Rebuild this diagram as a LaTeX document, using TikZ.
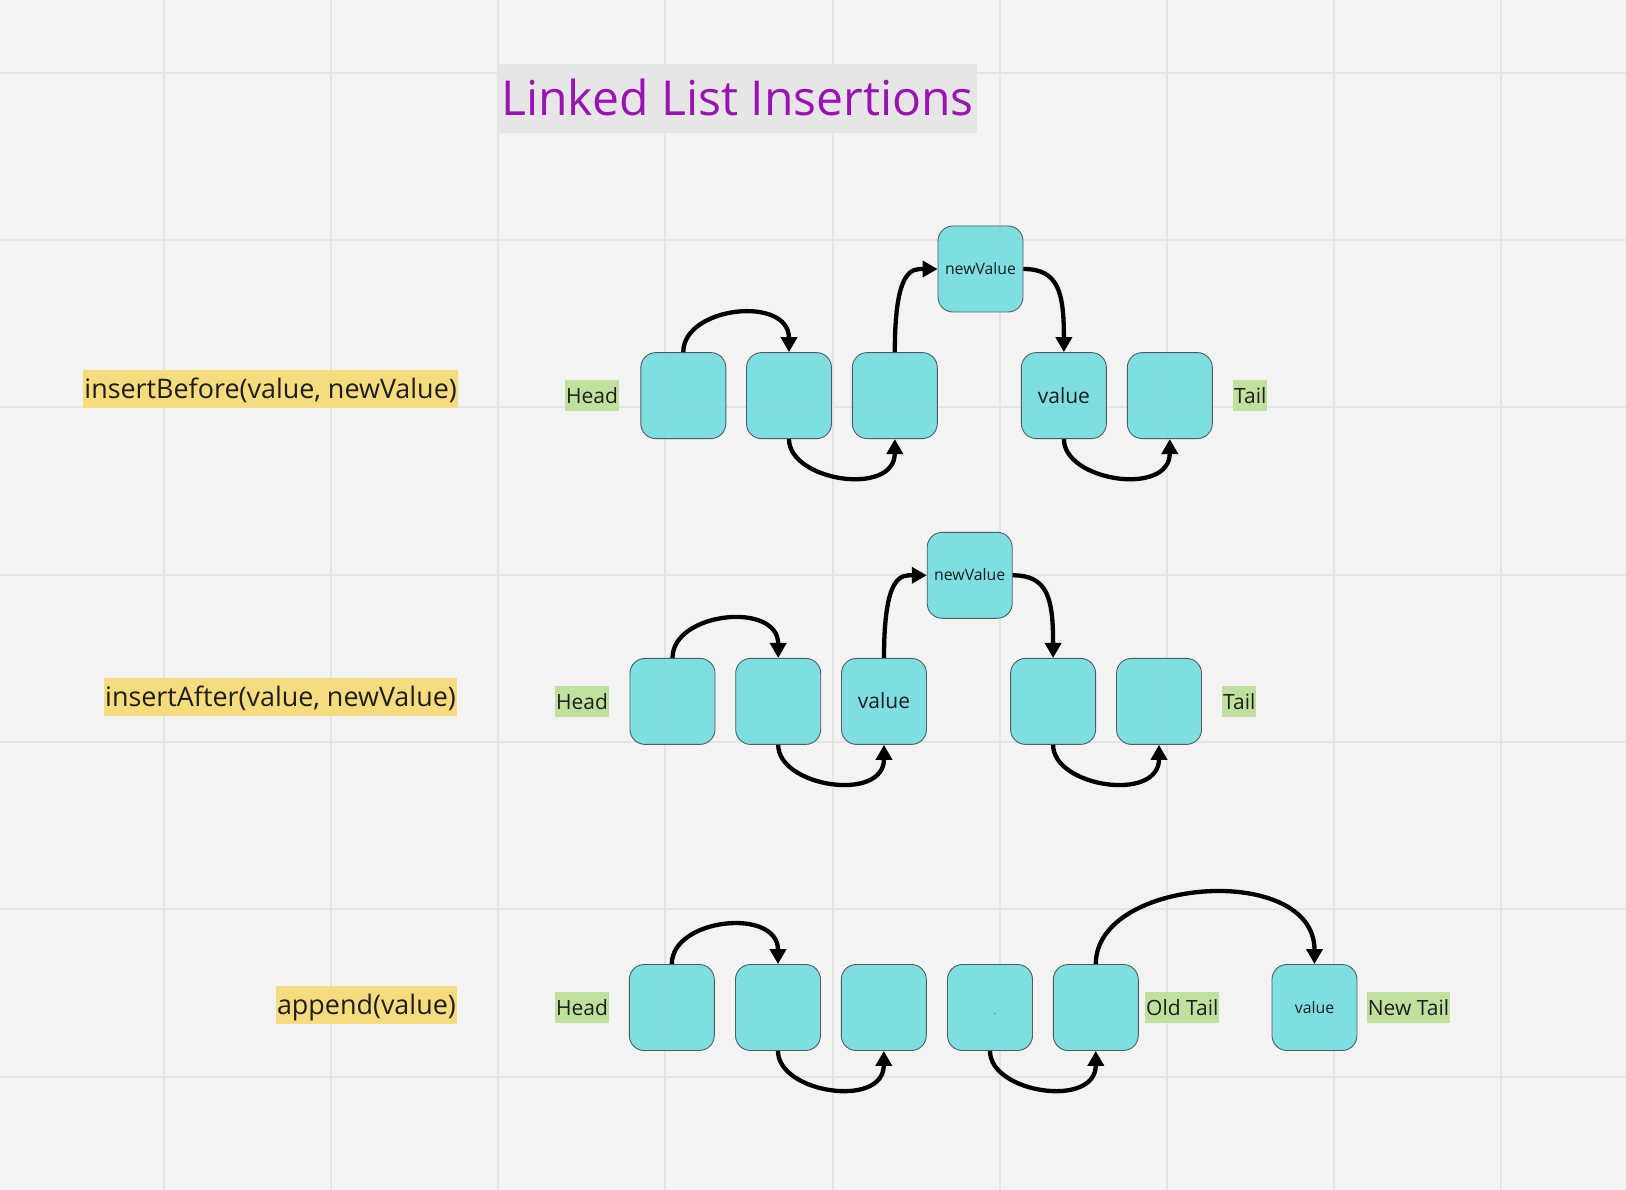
\documentclass[tikz,border=0pt]{standalone}
\usepackage{fontspec}
\setmainfont{Open Sans}
\usetikzlibrary{arrows.meta}
\definecolor{bg}{HTML}{F3F3F3}
\definecolor{gridc}{HTML}{E4E4E4}
\definecolor{cyanfill}{HTML}{73DCE1}
\definecolor{nodeborder}{HTML}{4E5E60}
\definecolor{titlepurple}{HTML}{9B12B4}
\definecolor{titlebg}{HTML}{E6E6E6}
\definecolor{yellowlab}{HTML}{F7DC7E}
\definecolor{greenlab}{HTML}{BFE19D}
\definecolor{textdark}{HTML}{1E1E1E}
\begin{document}
\begin{tikzpicture}[x=1pt,y=-1pt,
  llnode/.style={draw=nodeborder, line width=0.9pt, fill=cyanfill, fill opacity=0.9, text opacity=1,
    rounded corners=15pt, minimum width=85pt, minimum height=86pt, inner sep=0pt, text=textdark},
  bigval/.style={font=\fontsize{21}{25}\selectfont, text height=15pt, text depth=0pt},
  smallval/.style={font=\fontsize{15.8}{19}\selectfont, text height=11.3pt, text depth=0pt},
  opfunc/.style={fill=yellowlab, text=textdark, inner xsep=1.5pt, inner ysep=0pt, minimum height=38pt,
    text height=19pt, text depth=0pt, font=\fontsize{26.9}{32}\selectfont, anchor=east},
  endlab/.style={fill=greenlab, text=textdark, inner xsep=1pt, inner ysep=0pt, minimum height=31pt,
    text height=15pt, text depth=0pt, font=\fontsize{21}{25}\selectfont, anchor=west},
  arr/.style={line width=4.3pt, black, -{Triangle[length=15pt,width=16pt]}},
  gridline/.style={draw=gridc, line width=2pt}
]
\useasboundingbox (0,0) rectangle (1626,1190);
\fill[bg] (0,0) rectangle (1626,1190);
\foreach \gx in {163.8,331,498.2,665.4,832.6,999.8,1167,1334.2,1501.4}
  \draw[gridline] (\gx,0) -- (\gx,1190);
\foreach \gy in {72.7,240,407.3,574.6,741.9,909.2,1076.5}
  \draw[gridline] (0,\gy) -- (1626,\gy);

% title
\node[fill=titlebg, minimum width=478.4pt, minimum height=68.7pt, inner sep=0pt, text=titlepurple,
  font=\fontsize{48.1}{58}\selectfont, text height=34.4pt, text depth=0pt] (title) at (737.5,98.4) {Linked List Insertions};

% operation labels
\node[opfunc] (op1) at (458.5,389) {insertBefore(value, newValue)};
\node[opfunc] (op2) at (457.5,697) {insertAfter(value, newValue)};
\node[opfunc] (op3) at (457.5,1005) {append(value)};

% row 1
\node[endlab] (h1) at (565,395.5) {Head};
\node[llnode] (n11) at (683.3,395.6) {};
\node[llnode] (n12) at (789,395.6) {};
\node[llnode] (n13) at (894.8,395.6) {};
\node[llnode, smallval] (nv1) at (980.5,269) {newValue};
\node[llnode, bigval] (v1) at (1063.9,395.6) {value};
\node[llnode] (n16) at (1169.8,395.6) {};
\node[endlab] (t1) at (1233,395.5) {Tail};

\draw[arr] (n11.north) .. controls +(0,-46) and +(0,-57) .. (n12.north);
\draw[arr] (n12.south) .. controls +(0,42) and +(0,58) .. (n13.south);
\draw[arr] (n13.north) .. controls +(0,-85) and +(-25,0) .. (nv1.west);
\draw[arr] (nv1.east) .. controls +(35,0) and +(0,-60) .. (v1.north);
\draw[arr] (v1.south) .. controls +(0,42) and +(0,58) .. (n16.south);

% row 2
\node[endlab] (h2) at (555,701.5) {Head};
\node[llnode] (n21) at (672.5,701.4) {};
\node[llnode] (n22) at (778.2,701.4) {};
\node[llnode, bigval] (n23) at (884,701.4) {value};
\node[llnode, smallval] (nv2) at (969.7,575.3) {newValue};
\node[llnode] (n25) at (1053.1,701.4) {};
\node[llnode] (n26) at (1159,701.4) {};
\node[endlab] (t2) at (1222,701.5) {Tail};

\draw[arr] (n21.north) .. controls +(0,-46) and +(0,-57) .. (n22.north);
\draw[arr] (n22.south) .. controls +(0,42) and +(0,58) .. (n23.south);
\draw[arr] (n23.north) .. controls +(0,-85) and +(-25,0) .. (nv2.west);
\draw[arr] (nv2.east) .. controls +(35,0) and +(0,-60) .. (n25.north);
\draw[arr] (n25.south) .. controls +(0,42) and +(0,58) .. (n26.south);

% row 3
\node[endlab] (h3) at (555,1007.5) {Head};
\node[llnode] (n31) at (671.8,1007.5) {};
\node[llnode] (n32) at (778,1007.5) {};
\node[llnode] (n33) at (883.8,1007.5) {};
\node[llnode, font=\fontsize{8}{9}\selectfont, text height=13pt, text depth=0pt] (n34) at (990,1007.5) {\hspace*{10pt}.};
\node[llnode] (n35) at (1095.8,1007.5) {};
\node[endlab] (ot) at (1145,1007.5) {Old Tail};
\node[llnode, smallval] (v3) at (1314.5,1007.5) {value};
\node[endlab] (nt) at (1366.7,1007.5) {New Tail};

\draw[arr] (n31.north) .. controls +(0,-46) and +(0,-57) .. (n32.north);
\draw[arr] (n32.south) .. controls +(0,42) and +(0,58) .. (n33.south);
\draw[arr] (n34.south) .. controls +(0,42) and +(0,58) .. (n35.south);
\draw[arr] (n35.north) .. controls +(0,-87) and +(0,-102) .. (v3.north);
\end{tikzpicture}
\end{document}
